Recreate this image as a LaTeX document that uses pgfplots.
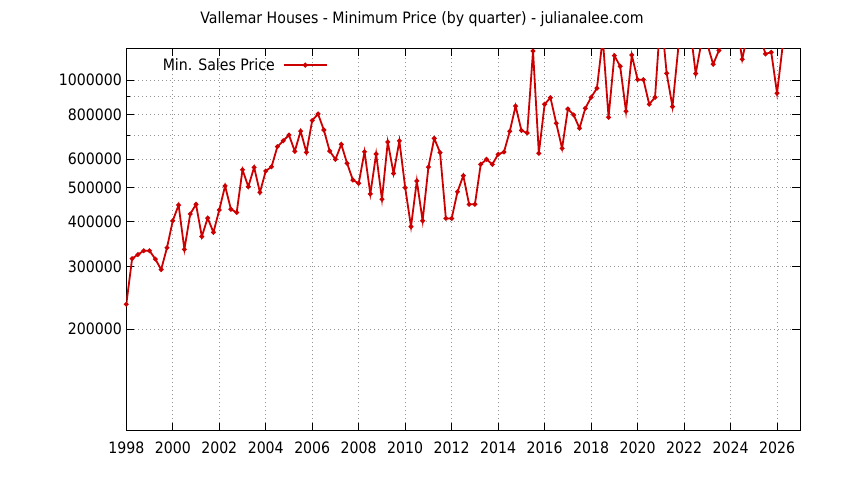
\documentclass[border=0pt]{standalone}
\usepackage{pgfplots}
\pgfplotsset{compat=1.18}
\usepackage{fontspec}
\setmainfont{DejaVu Sans Condensed}
\definecolor{gpred}{RGB}{204,0,0}
\newcommand{\gpfont}{\fontsize{15.7}{18}\selectfont}

\begin{document}
\begin{tikzpicture}
\useasboundingbox (-126.3pt,-49.3pt) rectangle (717.7pt,430.7pt);
\begin{axis}[
  at={(0pt,0pt)}, anchor=south west,
  scale only axis,
  width=674pt, height=382.4pt,
  xmin=1998, xmax=2027,
  ymode=log, ymin=103900, ymax=1227000,
  xtick={1998,2000,...,2026},
  minor x tick num=1,
  xticklabels={1998,2000,2002,2004,2006,2008,2010,2012,2014,2016,2018,2020,2022,2024,2026},
  ytick={200000,300000,400000,500000,600000,800000,1000000},
  yticklabels={200000,300000,400000,500000,600000,800000,1000000},
  minor ytick={700000,900000},
  grid=both,
  major grid style={gray!85, line width=0.8pt, dash pattern=on 0.8pt off 3.2pt},
  minor grid style={gray!85, line width=0.8pt, dash pattern=on 0.8pt off 3.2pt},
  major tick length=8pt, minor tick length=4pt,
  tick style={black, line width=0.9pt},
  axis line style={line width=1pt},
  /pgf/number format/assume math mode=true,
  tick label style={font=\gpfont},
  xticklabel style={yshift=-8pt},
  yticklabel style={xshift=-1pt},
  legend plot pos=right,
  legend style={draw=none, fill=none, font=\gpfont, at={(0.3005,0.956)}, anchor=east, inner sep=1pt},
  legend image code/.code={\draw[#1, mark repeat=2, mark phase=2] plot coordinates {(0pt,0pt) (21.5pt,0pt) (43pt,0pt)};},
]
\addplot[gpred, line width=1.8pt, mark=*, mark size=1.4pt] coordinates {
(1998.00,235000) (1998.25,315500) (1998.50,324000) (1998.75,332000)
(1999.00,332000) (1999.25,314600) (1999.50,294000) (1999.75,338500)
(2000.00,403000) (2000.25,446000) (2000.50,335000) (2000.75,421000)
(2001.00,448000) (2001.25,364000) (2001.50,410000) (2001.75,374000)
(2002.00,432000) (2002.25,504500) (2002.50,434000) (2002.75,425000)
(2003.00,560000) (2003.25,502000) (2003.50,569000) (2003.75,484000)
(2004.00,555600) (2004.25,571000) (2004.50,650000) (2004.75,675000)
(2005.00,701000) (2005.25,631000) (2005.50,719000) (2005.75,627000)
(2006.00,770000) (2006.25,803000) (2006.50,724000) (2006.75,632000)
(2007.00,599000) (2007.25,660000) (2007.50,584000) (2007.75,524000)
(2008.00,513000) (2008.25,629000) (2008.50,479000) (2008.75,620000)
(2009.00,463000) (2009.25,670000) (2009.50,547000) (2009.75,675000)
(2010.00,499000) (2010.25,388000) (2010.50,521000) (2010.75,403000)
(2011.00,570000) (2011.25,686000) (2011.50,626000) (2011.75,409000)
(2012.00,409000) (2012.25,486000) (2012.50,539000) (2012.75,448000)
(2013.00,448000) (2013.25,580000) (2013.50,599000) (2013.75,580000)
(2014.00,619000) (2014.25,628000) (2014.50,718000) (2014.75,845000)
(2015.00,722000) (2015.25,710000) (2015.50,1206000) (2015.75,623000)
(2016.00,855000) (2016.25,892000) (2016.50,756000) (2016.75,643000)
(2017.00,829000) (2017.25,798000) (2017.50,732000) (2017.75,833000)
(2018.00,894000) (2018.25,948000) (2018.50,1310000) (2018.75,786000)
(2019.00,1170000) (2019.25,1092000) (2019.50,817000) (2019.75,1175000)
(2020.00,1002000) (2020.25,1002000) (2020.50,855000) (2020.75,894000)
(2021.00,1550000) (2021.25,1044000) (2021.50,842000) (2021.75,1230000)
(2022.00,1450000) (2022.25,1417000) (2022.50,1042000) (2022.75,1280000)
(2023.00,1260000) (2023.25,1107000) (2023.50,1210000) (2023.75,1350000)
(2024.00,1400000) (2024.25,1460000) (2024.50,1143000) (2024.75,1360000)
(2025.00,1380000) (2025.25,1340000) (2025.50,1183000) (2025.75,1196000)
(2026.00,918000) (2026.25,1260000)
};
\addlegendentry{Min. Sales Price\kern6pt}
\end{axis}
\node[font=\gpfont] at (295.7pt,411.7pt) {Vallemar Houses - Minimum Price (by quarter) - julianalee.com};
\end{tikzpicture}
\end{document}
